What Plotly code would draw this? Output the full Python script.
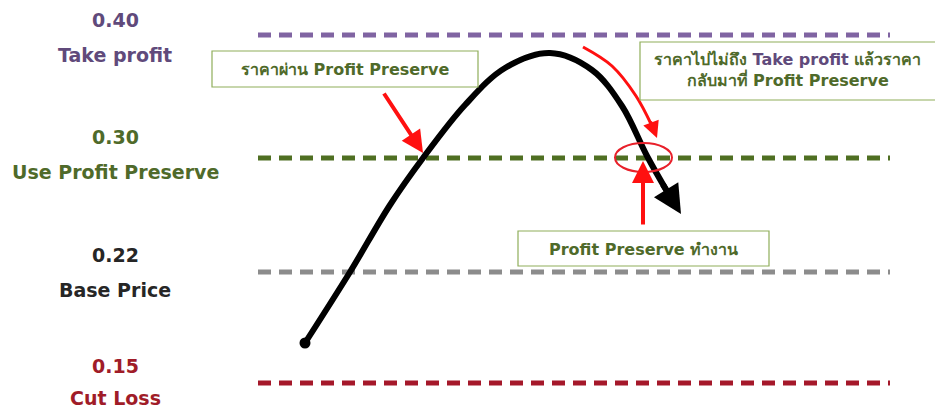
import plotly.graph_objects as go

# ---- data ----
level_values = ["0.40", "0.30", "0.22", "0.15"]
level_names = ["Take profit", "Use Profit Preserve", "Base Price", "Cut Loss"]
level_pos = [35, 158, 272, 383]          # vertical position of each level on the diagram

# price path (diagram coordinates)
curve_x = [305, 350, 390, 423, 465, 505, 550, 592, 622, 647, 668]
curve_y = [343, 272, 205, 158, 105, 68, 53, 70, 106, 156, 193]

# red curved arrow path
red_curve_x = [583, 612, 636, 652]
red_curve_y = [47, 66, 96, 126]

level_line_colors = ["#8064a2", "#4f6f22", "#8c8c8c", "#a5182a"]
level_text_colors = ["#604a7b", "#4f6a2a", "#262626", "#a01c28"]
GREEN_TXT = "#4f6a2a"
PURPLE_TXT = "#604a7b"
BOX = "#8fae5a"
FONT = "DejaVu Sans, Verdana, sans-serif"

fig = go.Figure()

shapes = []
for y, c in zip(level_pos, level_line_colors):
    shapes.append(dict(type="line", xref="x", yref="y", x0=258, x1=890, y0=y, y1=y,
                       line=dict(color=c, width=5, dash="13px,8px"), layer="below"))

# boxes
shapes.append(dict(type="rect", x0=212, x1=478, y0=51, y1=87, line=dict(color=BOX, width=1.2), fillcolor="white"))
shapes.append(dict(type="rect", x0=640, x1=940, y0=42, y1=100, line=dict(color=BOX, width=1.2), fillcolor="white"))
shapes.append(dict(type="rect", x0=518, x1=769, y0=231, y1=266, line=dict(color=BOX, width=1.2), fillcolor="white"))
# ellipse
shapes.append(dict(type="circle", x0=615, x1=672, y0=143, y1=172, line=dict(color="#e8202a", width=2)))

fig.add_trace(go.Scatter(x=curve_x, y=curve_y, mode="lines",
                         line=dict(color="black", width=6, shape="spline", smoothing=1.0),
                         hoverinfo="skip", showlegend=False))
fig.add_trace(go.Scatter(x=[curve_x[0]], y=[curve_y[0]], mode="markers", marker=dict(color="black", size=11),
                         hoverinfo="skip", showlegend=False))
fig.add_trace(go.Scatter(x=red_curve_x, y=red_curve_y, mode="lines",
                         line=dict(color="#ff1010", width=3, shape="spline"),
                         hoverinfo="skip", showlegend=False))

ann = []
label_value_y = [20, 137, 255, 366]
label_name_y = [55, 172, 290, 398]
for v, n, yv, yn, c in zip(level_values, level_names, label_value_y, label_name_y, level_text_colors):
    ann.append(dict(x=115, y=yv, text=f"<b>{v}</b>", showarrow=False, font=dict(size=19, color=c, family=FONT)))
    ann.append(dict(x=115, y=yn, text=f"<b>{n}</b>", showarrow=False, font=dict(size=19, color=c, family=FONT)))

ann.append(dict(x=345, y=69, text="<b>ราคาผ่าน Profit Preserve</b>", showarrow=False,
                font=dict(size=16, color=GREEN_TXT, family=FONT)))
ann.append(dict(x=787, y=70,
                text=(f"<b>ราคาไปไม่ถึง <span style='color:{PURPLE_TXT}'>Take profit</span> แล้วราคา<br>"
                      f"กลับมาที่ Profit Preserve</b>"),
                showarrow=False, font=dict(size=16, color=GREEN_TXT, family=FONT)))
ann.append(dict(x=643, y=249, text="<b>Profit Preserve ทำงาน</b>", showarrow=False,
                font=dict(size=16, color=GREEN_TXT, family=FONT)))

ann.append(dict(x=681, y=214, ax=662, ay=183, xref="x", yref="y", axref="x", ayref="y", text="",
                showarrow=True, arrowhead=2, arrowwidth=6, arrowsize=0.95, arrowcolor="black"))
ann.append(dict(x=423, y=153, ax=383, ay=92, xref="x", yref="y", axref="x", ayref="y", text="",
                showarrow=True, arrowhead=2, arrowwidth=4, arrowsize=1.1, arrowcolor="#ff1010"))
ann.append(dict(x=643, y=161, ax=643, ay=226, xref="x", yref="y", axref="x", ayref="y", text="",
                showarrow=True, arrowhead=2, arrowwidth=4, arrowsize=1.1, arrowcolor="#ff1010"))
ann.append(dict(x=657, y=138, ax=650, ay=120, xref="x", yref="y", axref="x", ayref="y", text="",
                showarrow=True, arrowhead=2, arrowwidth=3, arrowsize=1.1, arrowcolor="#ff1010"))

fig.update_layout(
    width=935, height=409, margin=dict(l=0, r=0, t=0, b=0),
    paper_bgcolor="white", plot_bgcolor="white",
    xaxis=dict(range=[0, 935], visible=False, fixedrange=True),
    yaxis=dict(range=[409, 0], visible=False, fixedrange=True),
    shapes=shapes, annotations=ann, showlegend=False,
)

fig.write_html("out.html", config={"displayModeBar": False},
               post_script="document.body.style.margin='0';document.body.style.overflow='hidden';")
